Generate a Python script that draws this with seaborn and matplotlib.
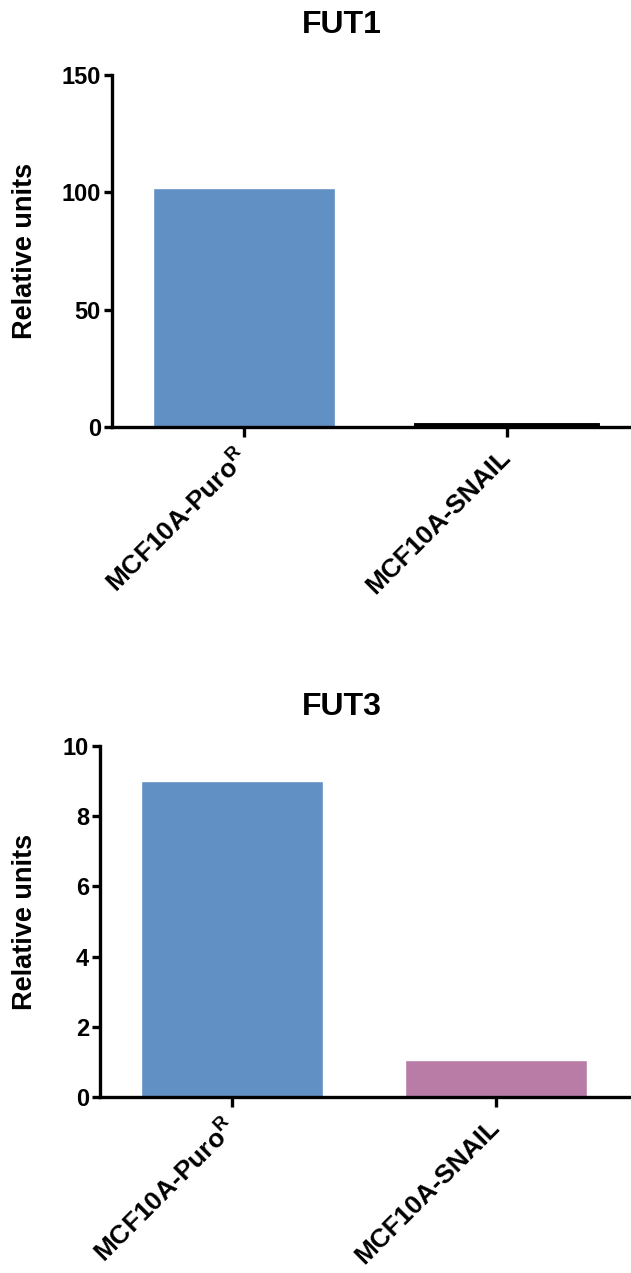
import matplotlib
matplotlib.use("Agg")
import matplotlib.pyplot as plt
import seaborn as sns
import pandas as pd

# ---- data ----
GROUPS = [r"MCF10A-Puro$^{\mathrm{R}}$", "MCF10A-SNAIL"]
FUT1 = [102.0, 1.0]
FUT3 = [9.0, 1.05]
COLORS = ["#6090C4", "#B87CA6"]

sns.set_theme(style="white")
plt.rcParams["font.family"] = ["Liberation Sans", "DejaVu Sans"]
plt.rcParams["font.weight"] = "bold"
plt.rcParams["mathtext.fontset"] = "custom"
plt.rcParams["mathtext.rm"] = "Liberation Sans"
plt.rcParams["axes.linewidth"] = 2.4
for key in ["text.color", "axes.edgecolor", "axes.labelcolor", "xtick.color", "ytick.color"]:
    plt.rcParams[key] = "black"

fig = plt.figure(figsize=(6.31, 12.73), dpi=100)


def panel(rect, values, title, title_y, ymax, yticks, xmax, edge2, label_x):
    ax = fig.add_axes(rect)
    df = pd.DataFrame({"group": GROUPS, "value": values})
    sns.barplot(data=df, x="group", y="value", hue="group", palette=COLORS,
                width=0.69, legend=False, ax=ax, saturation=1)
    # tiny second bar in FUT1 shows up as a black outline
    if edge2:
        ax.patches[1].set_edgecolor("black")
        ax.patches[1].set_linewidth(2.8)
    ax.set_xlim(-0.5, xmax)
    ax.set_ylim(0, ymax)
    ax.set_yticks(yticks)
    ax.set_xlabel("")
    ax.set_ylabel("Relative units", fontsize=19.5, fontweight="bold")
    ax.yaxis.set_label_coords(label_x, 0.5)
    sns.despine(ax=ax)
    ax.tick_params(axis="y", length=6, width=2.4, pad=2, labelsize=17, direction="out", left=True)
    ax.tick_params(axis="x", length=7, width=2.4, pad=12, labelsize=19, direction="out", bottom=True)
    for t in ax.get_yticklabels():
        t.set_fontweight("bold")
    for t in ax.get_xticklabels():
        t.set_rotation(45)
        t.set_ha("right")
        t.set_va("center")
        t.set_rotation_mode("anchor")
        t.set_fontweight("bold")
    fig.text(342 / 631, title_y, title, ha="center", va="center",
             fontsize=23, fontweight="bold")
    return ax


panel([112 / 631, 0.6646, 1 - 112 / 631, 0.2765], FUT1, "FUT1", 1 - 25 / 1273,
      150, [0, 50, 100, 150], 1.47, True, -0.142)
panel([100 / 631, 0.1383, 1 - 100 / 631, 0.2757], FUT3, "FUT3", 1 - 707 / 1273,
      10, [0, 2, 4, 6, 8, 10], 1.51, False, -0.116)

fig.savefig("out.png", dpi=100)
